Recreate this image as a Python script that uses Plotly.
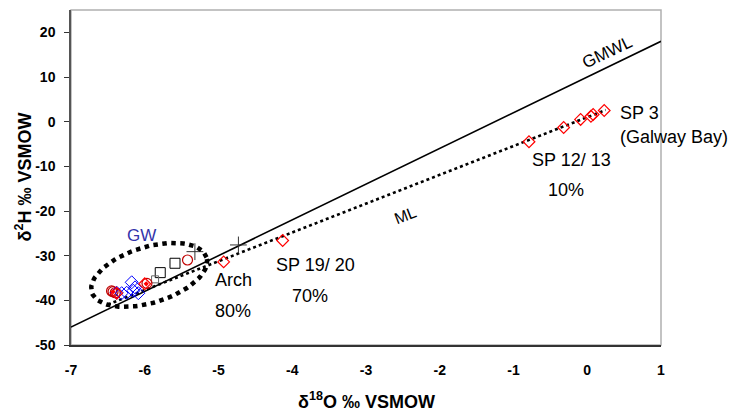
import numpy as np
import plotly.graph_objects as go

# ---------------- data ----------------
gmwl_x = [-7.0, 1.0]
gmwl_slope, gmwl_icpt = 8.0, 10.0
ml_x = [-6.5, 0.25]
ml_slope, ml_icpt = 6.45, 1.0

sp_d18o = [0.23, 0.08, 0.05, -0.09, -0.32, -0.79, -4.13, -4.93, -6.0, -6.38]
sp_d2h = [2.5, 1.6, 1.2, 0.5, -1.3, -4.5, -26.6, -31.4, -36.3, -38.4]

gw_d18o = [-6.177, -6.132, -6.087, -6.155, -6.245, -6.313, -6.38]
gw_d2h = [-35.96, -37.1, -38.4, -37.85, -38.3, -38.4, -38.3]

circ_d18o = [-6.43, -6.40, -6.45, -5.97, -5.42]
circ_d2h = [-38.07, -38.3, -37.9, -36.2, -30.97]

redfill_d18o = [-6.43, -5.98]
redfill_d2h = [-38.1, -36.3]

sq_d18o = [-5.59, -5.79]
sq_d2h = [-31.7, -33.8]

smallsq_d18o = [-5.86]
smallsq_d2h = [-35.3]

plus_d18o = [-5.32, -4.73]
plus_d2h = [-29.1, -27.6]

x_ticks = [-7, -6, -5, -4, -3, -2, -1, 0, 1]
y_ticks = [-50, -40, -30, -20, -10, 0, 10, 20]

FONT = "Liberation Sans, Arial, sans-serif"

# ---------------- figure ----------------
W, H = 744, 414
ML_, MR_, MT_, MB_ = 71, 83, 10, 69
XR = [-7, 1]
YR = [-50, 25]
pxu_x = (W - ML_ - MR_) / (XR[1] - XR[0])
pxu_y = (H - MT_ - MB_) / (YR[1] - YR[0])

fig = go.Figure()

gx = np.array(gmwl_x)
fig.add_trace(go.Scatter(x=gx, y=gmwl_slope * gx + gmwl_icpt, mode="lines",
                         line=dict(color="black", width=1.6), hoverinfo="skip"))
mx = np.array(ml_x)
fig.add_trace(go.Scatter(x=mx, y=ml_slope * mx + ml_icpt, mode="lines",
                         line=dict(color="black", width=2.6, dash="dot"), hoverinfo="skip"))

fig.add_trace(go.Scatter(x=sq_d18o, y=sq_d2h, mode="markers",
                         marker=dict(symbol="square-open", size=10, color="black",
                                     line=dict(width=1))))
fig.add_trace(go.Scatter(x=smallsq_d18o, y=smallsq_d2h, mode="markers",
                         marker=dict(symbol="square-open", size=7, color="#666666",
                                     line=dict(width=1))))
fig.add_trace(go.Scatter(x=plus_d18o, y=plus_d2h, mode="markers",
                         marker=dict(symbol="cross-thin-open", size=12, color="#333333",
                                     line=dict(width=1, color="#333333"))))
fig.add_trace(go.Scatter(x=circ_d18o, y=circ_d2h, mode="markers",
                         marker=dict(symbol="circle-open", size=10, color="#c00000",
                                     line=dict(width=1.2))))
fig.add_trace(go.Scatter(x=gw_d18o, y=gw_d2h, mode="markers",
                         marker=dict(symbol="diamond-open", size=10, color="#0000ff",
                                     line=dict(width=1))))
fig.add_trace(go.Scatter(x=sp_d18o, y=sp_d2h, mode="markers",
                         marker=dict(symbol="diamond-open", size=9, color="#ff0000",
                                     line=dict(width=1.2))))
fig.add_trace(go.Scatter(x=redfill_d18o, y=redfill_d2h, mode="markers",
                         marker=dict(symbol="diamond", size=4, color="#ff0000")))

# dotted ellipse around GW cluster (defined in pixel geometry, converted to data)
cx, cy = -5.94, -34.3
a_px, b_px, th = 60, 28, np.deg2rad(17)
t = np.linspace(0, 2 * np.pi, 120)
ox = a_px * np.cos(t) * np.cos(th) - b_px * np.sin(t) * np.sin(th)
oy = a_px * np.cos(t) * np.sin(th) + b_px * np.sin(t) * np.cos(th)
ex = cx + ox / pxu_x
ey = cy + oy / pxu_y
fig.add_trace(go.Scatter(x=ex, y=ey, mode="lines",
                         line=dict(color="black", width=4.5, dash="dot"), hoverinfo="skip"))

# plot border (gray top/right)
fig.add_shape(type="rect", xref="paper", yref="paper", x0=0, y0=0, x1=1, y1=1,
              line=dict(color="#b0b0b0", width=1.5), layer="below")

ann = []
def txt(x, y, s, size=18, color="black", angle=0, xanchor="center"):
    ann.append(dict(x=x, y=y, text=s, showarrow=False, textangle=angle,
                    xanchor=xanchor, yanchor="middle",
                    font=dict(family=FONT, size=size, color=color)))

txt(0.268, 15.4, "GMWL", size=17, angle=-25.8)
txt(-2.47, -20.9, "ML", size=16, angle=-21)
txt(0.417, 1.9, "SP 3", xanchor="left")
txt(0.417, -3.43, "(Galway Bay)", xanchor="left")
txt(-0.207, -8.58, "SP 12/ 13")
txt(-0.288, -15.3, "10%")
txt(-3.69, -32.1, "SP 19/ 20")
txt(-3.76, -39.0, "70%")
txt(-4.80, -35.4, "Arch")
txt(-4.80, -42.4, "80%")
txt(-6.05, -25.4, "GW", size=17, color="#3333aa")

# axis titles
ann.append(dict(xref="paper", yref="paper", x=0.5, y=0, yshift=-55, showarrow=False,
                text="δ<sup>18</sup>O ‰ VSMOW", xanchor="center", yanchor="middle",
                font=dict(family=FONT, size=18, color="black", weight="bold")))
ann.append(dict(xref="paper", yref="paper", x=0, y=0.5, xshift=-47, showarrow=False,
                text="δ<sup>2</sup>H ‰ VSMOW", textangle=-90, xanchor="center", yanchor="middle",
                font=dict(family=FONT, size=18, color="black", weight="bold")))

fig.update_layout(
    width=W, height=H,
    margin=dict(l=ML_, r=MR_, t=MT_, b=MB_, autoexpand=False),
    paper_bgcolor="white", plot_bgcolor="white",
    showlegend=False,
    annotations=ann,
    font=dict(family=FONT, color="black"),
)
fig.update_xaxes(range=XR, tickvals=x_ticks, ticktext=[str(v) for v in x_ticks],
                 automargin=False,
                 showgrid=False, zeroline=False, showline=True, linecolor="#333333",
                 linewidth=1.5, ticks="", ticklabelstandoff=11,
                 tickfont=dict(family=FONT, size=14, color="black", weight="bold"))
fig.update_yaxes(range=YR, tickvals=y_ticks, ticktext=[str(v) for v in y_ticks],
                 automargin=False,
                 showgrid=False, zeroline=False, showline=True, linecolor="#555555",
                 linewidth=1.5, ticks="outside", ticklen=5, tickcolor="#333333",
                 ticklabelstandoff=6,
                 tickfont=dict(family=FONT, size=14, color="black", weight="bold"))

fig.write_html("out.html", config={"displayModeBar": False},
               post_script="document.body.style.margin='0';document.body.style.overflow='hidden';")
